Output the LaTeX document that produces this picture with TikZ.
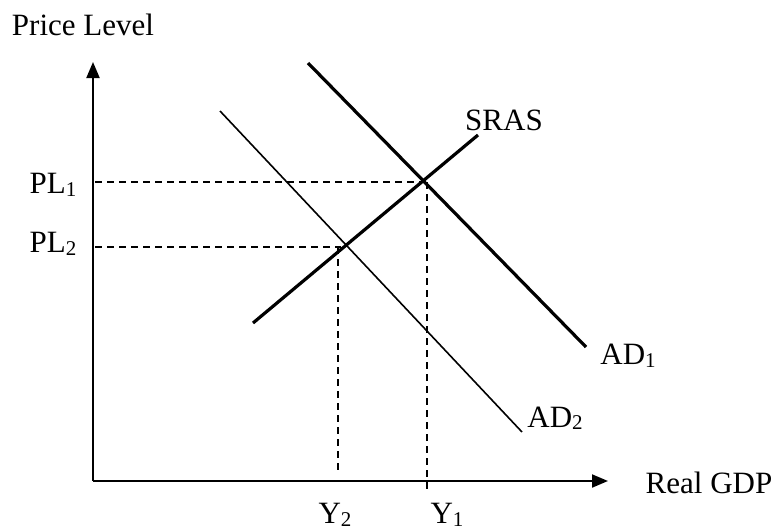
\documentclass[tikz,border=0pt]{standalone}
\usepackage{fontspec}
\setmainfont{Liberation Serif}
\usetikzlibrary{arrows.meta}
\newcommand{\lowsub}[1]{\raisebox{-0.08em}{\fontsize{21}{21}\selectfont #1}}
\begin{document}
\begin{tikzpicture}[x=1pt,y=-1pt,
  lbl/.style={inner sep=0pt,font=\fontsize{31}{36}\selectfont},
  axisline/.style={line width=2pt,-{Triangle[length=16pt,width=13pt]}},
  thickcurve/.style={line width=3.2pt},
  thincurve/.style={line width=1.6pt},
  guide/.style={line width=1.5pt,dash pattern=on 7pt off 5pt}]
\useasboundingbox (0,0) rectangle (774,531);
\fill[white] (0,0) rectangle (774,531);
% axes
\coordinate (O) at (93,481);
\coordinate (ytop) at (93,62);
\coordinate (xend) at (608,481);
\draw[axisline] (O) -- (ytop);
\draw[axisline] (O) -- (xend);
% curves
\coordinate (sras0) at (253,323);
\coordinate (sras1) at (478,135);
\coordinate (ad10) at (308,63);
\coordinate (ad11) at (586,347);
\coordinate (ad20) at (220,111);
\coordinate (ad21) at (522,432);
\draw[thickcurve] (sras0) -- (sras1);
\draw[thickcurve] (ad10) -- (ad11);
\draw[thincurve] (ad20) -- (ad21);
% equilibria
\coordinate (E1) at (424,182);
\coordinate (E2) at (341,247);
\coordinate (pl1) at (95,182);
\coordinate (pl2) at (95,247);
\coordinate (y1b) at (427,490);
\coordinate (y2b) at (338,470);
\draw[guide] (pl1) -- (E1);
\draw[guide] (pl2) -- (E2);
\draw[guide] (E1 -| y1b) -- (y1b);
\draw[guide] (E2 -| y2b) -- (y2b);
% labels
\node[lbl] (tpl) at (83,25) {Price Level};
\node[lbl] (treal) at (709,483) {Real GDP};
\node[lbl] (tpl1) at (53,185) {PL\lowsub{1}};
\node[lbl] (tpl2) at (53,244) {PL\lowsub{2}};
\node[lbl] (ty1) at (447,515) {Y\lowsub{1}};
\node[lbl] (ty2) at (335,515) {Y\lowsub{2}};
\node[lbl] (tsras) at (504,120) {SRAS};
\node[lbl] (tad1) at (628,356) {AD\lowsub{1}};
\node[lbl] (tad2) at (555,418) {AD\lowsub{2}};
\end{tikzpicture}
\end{document}
